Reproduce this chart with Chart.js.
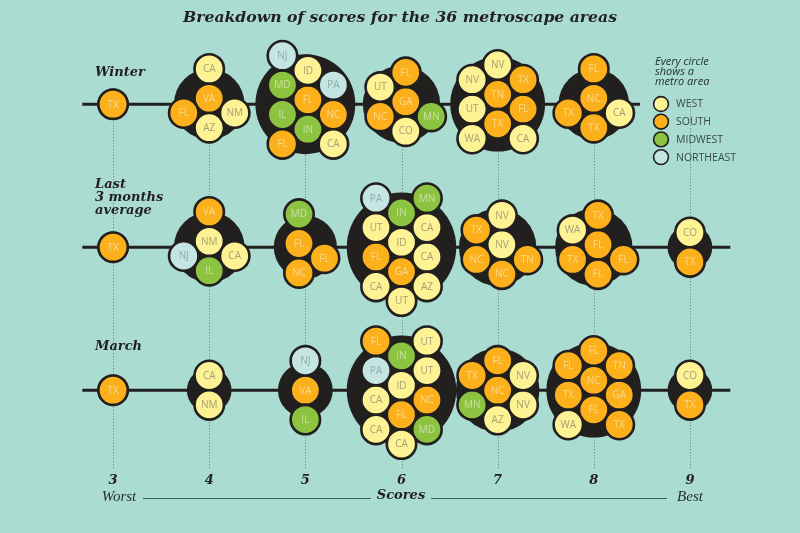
<!DOCTYPE html>
<html>
<head>
<meta charset="utf-8">
<script src="https://cdn.jsdelivr.net/npm/chart.js@4.4.1/dist/chart.umd.min.js"></script>
<style>
  html, body { margin: 0; padding: 0; background: #aadcd2; }
  #wrap { width: 800px; height: 533px; position: relative; }
</style>
</head>
<body>
<div id="wrap"><canvas id="chart"></canvas></div>
<script>
const scores = [3, 4, 5, 6, 7, 8, 9];
const periods = ['Winter', 'Last 3 months average', 'March'];
const periodRows = [2, 1, 0];

// metro areas per score (same order as scores), one list per period
const winterAreas = [
    ['TX'],
    ['VA', 'AZ', 'CA', 'NM', 'FL'],
    ['FL', 'IN', 'ID', 'NC', 'IL', 'MD', 'PA', 'CA', 'FL', 'NJ'],
    ['GA', 'CO', 'FL', 'MN', 'NC', 'UT'],
    ['TN', 'TX', 'NV', 'FL', 'UT', 'NV', 'TX', 'CA', 'WA'],
    ['NC', 'TX', 'FL', 'CA', 'TX'],
    []
];
const last3Areas = [
    ['TX'],
    ['NM', 'IL', 'VA', 'CA', 'NJ'],
    ['FL', 'NC', 'MD', 'FL'],
    ['ID', 'GA', 'IN', 'CA', 'FL', 'UT', 'CA', 'AZ', 'CA', 'PA', 'MN', 'UT'],
    ['NV', 'NC', 'NV', 'TN', 'NC', 'TX'],
    ['FL', 'FL', 'TX', 'FL', 'TX', 'WA'],
    ['CO', 'TX']
];
const marchAreas = [
    ['TX'],
    ['CA', 'NM'],
    ['VA', 'IL', 'NJ'],
    ['ID', 'FL', 'IN', 'NC', 'CA', 'PA', 'UT', 'MD', 'CA', 'FL', 'UT', 'CA'],
    ['NC', 'AZ', 'FL', 'NV', 'MN', 'TX', 'NV'],
    ['NC', 'FL', 'FL', 'GA', 'TX', 'FL', 'TN', 'TX', 'WA'],
    ['CO', 'TX']
];
const periodAreas = [winterAreas, last3Areas, marchAreas];

const regions = ['WEST', 'SOUTH', 'MIDWEST', 'NORTHEAST'];
const regionColors = ['#fdf294', '#fbb01c', '#8cc340', '#c5e5e2'];
const regionTextColors = ['#a8a175', '#f9d98f', '#c8e19f', '#8aaeab'];
const stateRegion = {
    AZ: 'WEST', CA: 'WEST', CO: 'WEST', ID: 'WEST', NM: 'WEST', NV: 'WEST', UT: 'WEST', WA: 'WEST',
    FL: 'SOUTH', GA: 'SOUTH', NC: 'SOUTH', TN: 'SOUTH', TX: 'SOUTH', VA: 'SOUTH',
    IL: 'MIDWEST', IN: 'MIDWEST', MN: 'MIDWEST', MD: 'MIDWEST',
    NJ: 'NORTHEAST', PA: 'NORTHEAST'
};

const INK = '#221f1f';
const CIRCLE_R = 14.7;
const CIRCLE_BORDER = 2.6;
const SPACING = 29.4;
const BLOB_K = 15.8;
const SERIF = '"DejaVu Serif", serif';
const SANS = '"Open Sans", sans-serif';

function regionIndex(state) {
    return regions.indexOf(stateRegion[state]);
}

// greedy packing: each circle goes to the free touching spot closest to the middle
function pack(n) {
    const pts = [];
    const cost = p => p[0] * p[0] + 0.7 * p[1] * p[1];
    for (let k = 0; k < n; k++) {
        if (k === 0) { pts.push([0, 0]); continue; }
        const cands = [];
        pts.forEach(p => {
            for (let a = 0; a < 24; a++) {
                const t = a * Math.PI / 12;
                cands.push([p[0] + SPACING * Math.cos(t), p[1] + SPACING * Math.sin(t)]);
            }
        });
        for (let i = 0; i < pts.length; i++) {
            for (let j = i + 1; j < pts.length; j++) {
                const dx = pts[j][0] - pts[i][0], dy = pts[j][1] - pts[i][1];
                const dist = Math.hypot(dx, dy);
                if (dist > 0 && dist < 2 * SPACING) {
                    const h = Math.sqrt(SPACING * SPACING - dist * dist / 4);
                    const mx = (pts[i][0] + pts[j][0]) / 2, my = (pts[i][1] + pts[j][1]) / 2;
                    const ux = -dy / dist, uy = dx / dist;
                    cands.push([mx + ux * h, my + uy * h], [mx - ux * h, my - uy * h]);
                }
            }
        }
        let best = null, bc = Infinity;
        cands.forEach(c => {
            if (pts.every(p => Math.hypot(c[0] - p[0], c[1] - p[1]) >= SPACING - 0.01)) {
                const v = cost(c);
                if (v < bc - 0.01) { bc = v; best = c; }
            }
        });
        pts.push(best);
    }
    const mx = pts.reduce((s, p) => s + p[0], 0) / n;
    const my = pts.reduce((s, p) => s + p[1], 0) / n;
    return pts.map(p => [p[0] - mx, p[1] - my]);
}

const blobData = [];
periodAreas.forEach((areas, p) => {
    areas.forEach((list, i) => {
        if (list.length) blobData.push({ x: scores[i], y: periodRows[p], r: BLOB_K * Math.sqrt(list.length) });
    });
});

const backdrop = {
    id: 'backdrop',
    beforeDraw(chart) {
        const ctx = chart.ctx;
        ctx.save();
        ctx.fillStyle = '#aadcd2';
        ctx.fillRect(0, 0, chart.width, chart.height);
        ctx.restore();
    },
    beforeDatasetsDraw(chart) {
        const ctx = chart.ctx, sx = chart.scales.x, sy = chart.scales.y;
        ctx.save();
        // dotted score guides
        ctx.strokeStyle = '#5f7f7a';
        ctx.lineWidth = 1;
        ctx.setLineDash([1, 2]);
        const top = sy.getPixelForValue(periodRows[0]);
        scores.forEach(s => {
            const x = Math.round(sx.getPixelForValue(s)) + 0.5;
            ctx.beginPath();
            ctx.moveTo(x, top);
            ctx.lineTo(x, chart.chartArea.bottom + 4);
            ctx.stroke();
        });
        // row baselines
        ctx.setLineDash([]);
        ctx.strokeStyle = INK;
        ctx.lineWidth = 3;
        periodRows.forEach((r, p) => {
            const y = sy.getPixelForValue(r);
            const x0 = sx.getPixelForValue(scores[0] - 0.32);
            const x1 = sx.getPixelForValue(p === 0 ? 8.48 : scores[scores.length - 1] + 0.42);
            ctx.beginPath();
            ctx.moveTo(x0, y);
            ctx.lineTo(x1, y);
            ctx.stroke();
        });
        ctx.restore();
    },
    afterDatasetsDraw(chart) {
        const ctx = chart.ctx;
        const meta = chart.getDatasetMeta(0);
        ctx.save();
        ctx.font = '10px ' + SANS;
        ctx.textAlign = 'center';
        ctx.textBaseline = 'middle';
        meta.data.forEach((el, i) => {
            const d = chart.data.datasets[0].data[i];
            ctx.fillStyle = regionTextColors[regionIndex(d.label)];
            ctx.fillText(d.label, el.x, el.y + 0.5);
        });
        ctx.restore();
    },
    afterDraw(chart) {
        const ctx = chart.ctx;
        ctx.save();
        ctx.fillStyle = INK;
        ctx.textBaseline = 'middle';

        // title
        const title = 'Breakdown of scores for the 36 metroscape areas';
        ctx.font = 'italic bold 15px ' + SERIF;
        const tw = ctx.measureText(title).width;
        ctx.font = 'italic bold ' + (15 * 434 / tw).toFixed(2) + 'px ' + SERIF;
        ctx.textAlign = 'center';
        ctx.fillText(title, 400, 18);

        // period labels
        ctx.textAlign = 'left';
        ctx.font = 'italic bold 13px ' + SERIF;
        ctx.fillText('Winter', 95, 73);
        ctx.fillText('Last', 95, 185);
        ctx.fillText('3 months', 95, 198);
        ctx.fillText('average', 95, 211);
        ctx.fillText('March', 95, 347);

        // bottom scale caption
        ctx.textAlign = 'center';
        ctx.font = 'italic 15px "Liberation Serif", serif';
        ctx.fillStyle = '#26302e';
        ctx.fillText('Worst', 119, 497);
        ctx.fillText('Best', 690, 497);
        ctx.font = 'italic bold 13px ' + SERIF;
        ctx.fillStyle = INK;
        ctx.fillText('Scores', 401, 496);
        ctx.strokeStyle = '#3f5f59';
        ctx.lineWidth = 1;
        ctx.beginPath();
        ctx.moveTo(143, 498.5); ctx.lineTo(371, 498.5);
        ctx.moveTo(431, 498.5); ctx.lineTo(667, 498.5);
        ctx.stroke();

        // legend
        ctx.textAlign = 'left';
        ctx.fillStyle = '#25302e';
        ctx.font = 'italic 11px ' + SANS;
        ctx.fillText('Every circle', 655, 62);
        ctx.fillText('shows a', 655, 72);
        ctx.fillText('metro area', 655, 82);
        ctx.font = '10.5px ' + SANS;
        regions.forEach((name, i) => {
            const y = 104 + i * 17.7;
            ctx.beginPath();
            ctx.arc(661, y, 7.4, 0, Math.PI * 2);
            ctx.fillStyle = regionColors[i];
            ctx.fill();
            ctx.lineWidth = 1.6;
            ctx.strokeStyle = INK;
            ctx.stroke();
            ctx.fillStyle = '#3b4a47';
            ctx.fillText(name, 676, y + 0.5);
        });
        ctx.restore();
    }
};

const chart = new Chart(document.getElementById('chart'), {
    type: 'scatter',
    data: {
        datasets: [
            {
                label: 'Metro areas',
                data: [],
                order: 1,
                clip: false,
                pointRadius: CIRCLE_R,
                pointHoverRadius: CIRCLE_R,
                pointBorderWidth: CIRCLE_BORDER,
                pointBorderColor: INK,
                pointBackgroundColor: ctx => ctx.raw ? regionColors[regionIndex(ctx.raw.label)] : '#fff'
            },
            {
                type: 'bubble',
                label: 'Cluster',
                data: blobData,
                order: 2,
                clip: false,
                backgroundColor: INK,
                borderWidth: 0
            }
        ]
    },
    options: {
        responsive: true,
        maintainAspectRatio: false,
        animation: false,
        layout: { autoPadding: false, padding: { left: 65, right: 62, top: 40, bottom: 37 } },
        plugins: { legend: { display: false }, tooltip: { enabled: false } },
        scales: {
            x: {
                type: 'linear',
                min: 2.5,
                max: 9.5,
                afterBuildTicks: axis => { axis.ticks = scores.map(v => ({ value: v })); },
                grid: { display: false, drawTicks: false },
                border: { display: false },
                ticks: {
                    padding: 8,
                    color: INK,
                    font: { family: SERIF, size: 13, style: 'italic', weight: 'bold' }
                }
            },
            y: {
                type: 'linear',
                display: false,
                min: -0.519,
                max: 2.449
            }
        }
    },
    plugins: [backdrop]
});

// place the circles now that the scales know their pixel sizes
const sx = chart.scales.x, sy = chart.scales.y;
const unitX = sx.getPixelForValue(1) - sx.getPixelForValue(0);
const unitY = sy.getPixelForValue(0) - sy.getPixelForValue(1);
const circleData = [];
periodAreas.forEach((areas, p) => {
    areas.forEach((list, i) => {
        const offs = pack(list.length);
        list.forEach((state, k) => {
            circleData.push({
                x: scores[i] + offs[k][0] / unitX,
                y: periodRows[p] - offs[k][1] / unitY,
                label: state
            });
        });
    });
});
chart.data.datasets[0].data = circleData;
chart.update('none');
</script>
</body>
</html>
